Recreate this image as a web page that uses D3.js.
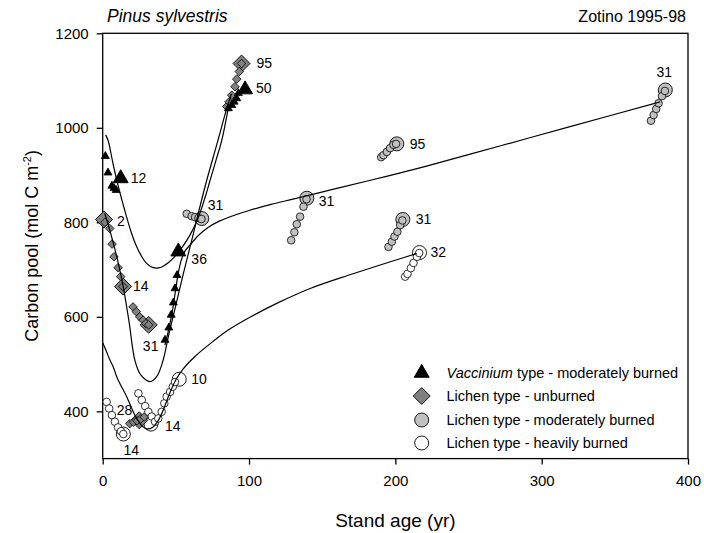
<!DOCTYPE html>
<html><head><meta charset="utf-8">
<script src="https://cdn.jsdelivr.net/npm/d3@7"></script>
<style>
body{margin:0;background:#fff}
svg{display:block}
text{font-family:"Liberation Sans",Arial,Helvetica,sans-serif;fill:#000}
</style>
</head><body>
<svg id="chart" width="704" height="533"></svg>
<script>
// ---------------- DATA ----------------
const xTicks = [0, 100, 200, 300, 400];
const yTicks = [400, 600, 800, 1000, 1200];

// fitted curves [stand age, carbon pool]
const vacciniumCurve = [[2,985],[3.8,972],[7,925],[10.5,878],[15,826],[19.6,778],[23,750],[26.4,729],[30,713],[34.5,704],[40,705],[45,715],[50,730],[55,750],[60,775],[63.5,797],[66.5,820],[70,853],[73.4,889],[77.5,932],[81.4,974],[86,1045]];
const unburnedCurve = [[1.4,819],[5,782],[10,722],[14,664],[18,590],[22,508],[26,477],[32.4,463],[37,474],[41,505],[45,560],[50,625],[55,690],[61.9,775],[65,815],[71.1,889],[78,965],[84.8,1041],[88,1072]];
const moderateCurve = [[42.5,540],[45,572],[47.5,610],[49.5,650],[51.5,690],[53.5,718],[56,738],[59.7,752],[65.4,772],[72,789],[80,803],[90,815],[100,825],[115,838],[130,849],[142,858],[160,872],[183,889],[220,918],[272,962],[320,1003],[381,1055]];
const heavyCurve = [[0,545],[2.5,527],[5,508],[7.2,494],[10,470],[16.4,431],[22,392],[26,372],[30,363],[34,366],[38,381],[41.4,403],[46,440],[50.6,470],[55,490],[63,516],[75,547],[85.8,572],[100,598],[120,630],[141.8,660],[170,690],[195,715],[214.7,734]];

// measured plots: big marker = [age, C], trail = small markers [age, C]
const vacciniumPlots = [
  {label:"12", big:[12.3,893], trail:[[1.8,940],[3.6,905],[6.3,877],[7.8,872],[9.2,868]]},
  {label:"36", big:[51.7,738], trail:[[42.6,551],[45.2,577],[46.8,604],[48.3,630],[49.4,660],[50.8,688]]},
  {label:"50", big:[97.3,1081], trail:[[85.9,1041],[88.2,1048],[89.8,1055],[91.6,1062],[92.7,1073]]}
];
const unburnedPlots = [
  {label:"2",  big:[0.9,806],  trail:[[1.6,800]]},
  {label:"14", big:[13.9,664], trail:[[4.8,787],[6.4,754],[7.7,727],[10.5,704],[12.3,685],[13.9,664]]},
  {label:"31", big:[31.4,583], trail:[[20.7,621],[23,611],[25.3,600],[27.6,593],[29.4,586],[31.4,583]]},
  {label:"28", big:[25,381],   trail:[[18.5,374],[21,377],[23.5,380],[26,384],[28.3,388]]},
  {label:"95", big:[94.9,1136],trail:[[84.8,1045],[86.4,1055],[88.2,1069],[90.4,1087],[91.6,1103],[93.4,1119],[94.9,1136]]}
];
const moderatePlots = [
  {label:"31", big:[67.7,808], trail:[[57.4,818],[60.8,813],[63.1,811],[65.4,809],[67.5,807]]},
  {label:"31", big:[139.5,851],trail:[[128.8,762],[131,779],[132.6,796],[134.9,812],[137.2,833],[139.3,849]]},
  {label:"95", big:[201,966],  trail:[[190.3,938],[191.9,942],[194.2,949],[196.4,957],[198.7,964],[200.5,966]]},
  {label:"31", big:[205.1,806],trail:[[195.3,748],[197.6,759],[199.4,770],[201.4,780],[203.3,794],[204.8,804]]},
  {label:"31", big:[384.5,1080],trail:[[374.7,1015],[376.5,1027],[378.3,1040],[379.9,1052],[382.2,1067],[384.2,1078]]}
];
const heavyPlots = [
  {label:"14", big:[14.1,352], trail:[[2.7,420],[4.4,406],[6.3,392],[8.3,378],[10.5,366],[12.5,358],[14.1,352]]},
  {label:"14", big:[33,373],   trail:[[24.4,438],[26.7,424],[29,411],[31.2,399],[33.5,389],[35.8,378]]},
  {label:"10", big:[52.3,468], trail:[[38,385],[40.3,399],[42.1,417],[43.7,431],[46,441],[47.9,452],[49.4,462]]},
  {label:"32", big:[216.5,736],trail:[[206.7,685],[208.3,691],[210.6,703],[212.4,714],[214.7,727],[216.3,735]]}
];

const legendLabels = [
  ["Vaccinium", " type - moderately burned"],
  ["", "Lichen type - unburned"],
  ["", "Lichen type - moderately burned"],
  ["", "Lichen type - heavily burned"]
];

// ---------------- STYLE / LAYOUT ----------------
const L = 102.7, R = 688, T = 33.3, B = 458.6;
const svg = d3.select("#chart");
const x = d3.scaleLinear().domain([0, 400]).range([L, R]);
const y = d3.scaleLinear().domain([300, 1200]).range([B, T]);

const styles = {
  vac: {shape:"tri", fill:"#000"},
  unb: {shape:"dia", fill:"#808080"},
  mod: {shape:"cir", fill:"#c0c0c0"},
  hev: {shape:"cir", fill:"#fff"}
};
const labelPos = {
  vac: [[10,0,"start"],[13,7,"start"],[11,-1,"start"]],
  unb: [[13,2,"start"],[10,0,"start"],[2,21,"middle"],[-7,-10,"end"],[15,0,"start"]],
  mod: [[6,-13,"start"],[12,3,"start"],[13,0,"start"],[13,0,"start"],[-1,-18,"middle"]],
  hev: [[8,16,"middle"],[14,2,"start"],[12,0,"start"],[11,0,"start"]]
};

function shapePath(shape, big) {
  if (shape === "tri") {
    const s = big ? 15 : 8;
    const h = s * Math.sqrt(3) / 2;
    return `M0,${-2*h/3}L${s/2},${h/3}L${-s/2},${h/3}Z`;
  }
  if (shape === "dia") {
    const d = big ? 8.5 : 4.3;
    return `M0,${-d}L${d},0L0,${d}L${-d},0Z`;
  }
  const r = big ? 7 : 3.8;
  return d3.arc()({innerRadius:0, outerRadius:r, startAngle:0, endAngle:2*Math.PI});
}

svg.append("rect").attr("x", L).attr("y", T).attr("width", R - L).attr("height", B - T)
  .attr("fill", "none").attr("stroke", "#000").attr("stroke-width", 1.3);

const xAxis = svg.append("g").attr("transform", `translate(0,${B})`)
  .call(d3.axisBottom(x).tickValues(xTicks).tickSize(6).tickPadding(11).tickFormat(d3.format("d")));
const yAxis = svg.append("g").attr("transform", `translate(${L},0)`)
  .call(d3.axisLeft(y).tickValues(yTicks).tickSize(6).tickPadding(8).tickFormat(d3.format("d")));
[xAxis, yAxis].forEach(g => {
  g.select(".domain").remove();
  g.selectAll("line").attr("stroke", "#000").attr("stroke-width", 1.3);
  g.selectAll("text").attr("font-size", "15px").attr("font-family", '"Liberation Sans",Arial,sans-serif').attr("fill", "#000");
});

function drawGroup(plots, key) {
  const st = styles[key];
  const g = svg.append("g");
  plots.forEach(p => {
    g.append("path").attr("d", shapePath(st.shape, true))
      .attr("transform", `translate(${x(p.big[0])},${y(p.big[1])})`)
      .attr("fill", st.fill).attr("stroke", "#000").attr("stroke-width", 0.9);
    g.selectAll(null).data(p.trail).enter().append("path")
      .attr("d", shapePath(st.shape, false))
      .attr("transform", d => `translate(${x(d[0])},${y(d[1])})`)
      .attr("fill", st.fill).attr("stroke", "#000").attr("stroke-width", 0.8);
  });
  plots.forEach((p, i) => {
    const lp = labelPos[key][i];
    svg.append("text").attr("x", x(p.big[0]) + lp[0]).attr("y", y(p.big[1]) + lp[1])
      .attr("dy", "0.35em").attr("text-anchor", lp[2]).attr("font-size", "14px").text(p.label);
  });
}
drawGroup(heavyPlots, "hev");
drawGroup(moderatePlots, "mod");
drawGroup(unburnedPlots, "unb");
drawGroup(vacciniumPlots, "vac");

const line = d3.line().x(d => x(d[0])).y(d => y(d[1])).curve(d3.curveCatmullRom.alpha(0.5));
[vacciniumCurve, unburnedCurve, moderateCurve, heavyCurve].forEach(c => {
  svg.append("path").attr("d", line(c)).attr("fill", "none").attr("stroke", "#000").attr("stroke-width", 1.2);
});

const legKeys = ["vac", "unb", "mod", "hev"];
const legY = [373, 396, 420, 443];
legKeys.forEach((k, i) => {
  const st = styles[k];
  svg.append("path").attr("d", shapePath(st.shape, true))
    .attr("transform", `translate(421.7,${legY[i]})`)
    .attr("fill", st.fill).attr("stroke", "#000").attr("stroke-width", 0.9);
  const t = svg.append("text").attr("x", 446.5).attr("y", legY[i]).attr("dy", "0.35em").attr("font-size", "14.5px");
  if (legendLabels[i][0]) t.append("tspan").attr("font-style", "italic").text(legendLabels[i][0]);
  t.append("tspan").text(legendLabels[i][1]);
});

svg.append("text").attr("x", 107).attr("y", 22).attr("font-size", "17.5px").attr("font-style", "italic").text("Pinus sylvestris");
svg.append("text").attr("x", 686).attr("y", 22).attr("font-size", "16px").attr("text-anchor", "end").text("Zotino 1995-98");
svg.append("text").attr("x", (L + R) / 2).attr("y", 527).attr("font-size", "19px").attr("text-anchor", "middle").text("Stand age (yr)");
const yt = svg.append("text").attr("transform", `translate(38,${(T + B) / 2}) rotate(-90)`)
  .attr("font-size", "18px").attr("text-anchor", "middle");
yt.append("tspan").text("Carbon pool (mol C m");
yt.append("tspan").attr("font-size", "11px").attr("dy", "-7").text("-2");
yt.append("tspan").attr("dy", "7").text(")");
</script>
</body></html>
